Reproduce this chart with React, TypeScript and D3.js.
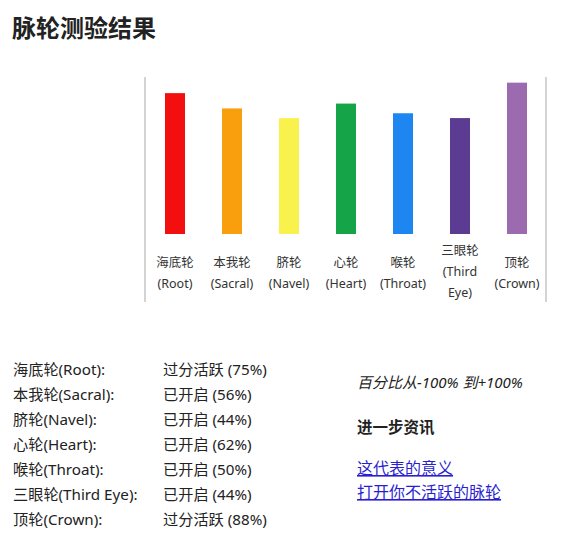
import React from 'react';
import * as d3 from 'd3';

const NAMES_ZH = ['海底轮', '本我轮', '脐轮', '心轮', '喉轮', '三眼轮', '顶轮'];
const NAMES_EN = ['Root', 'Sacral', 'Navel', 'Heart', 'Throat', 'Third Eye', 'Crown'];
const VALUES = [75, 56, 44, 62, 50, 44, 88];
const STATUS = ['过分活跃', '已开启', '已开启', '已开启', '已开启', '已开启', '过分活跃'];
const COLORS = ['#f30f10', '#f99e0c', '#faf24c', '#15a447', '#1e86f1', '#5b3c92', '#9b6aaf'];
const LINKS = ['这代表的意义', '打开你不活跃的脉轮'];

const SANS = '"Noto Sans", "Noto Sans CJK SC", sans-serif';
const SERIF = '"DejaVu Serif", "Noto Sans CJK SC", serif';

const App: React.FC = () => {
  const x = d3.scalePoint<number>().domain(d3.range(NAMES_ZH.length)).range([146.5, 545.5]).padding(0.5);
  const y = d3.scaleLinear().domain([-100, 100]).range([234, 73]);
  const barW = 20;

  const labelLines = (i: number): string[] =>
    NAMES_EN[i] === 'Third Eye' ? [NAMES_ZH[i], '(Third', 'Eye)'] : [NAMES_ZH[i], `(${NAMES_EN[i]})`];

  return (
    <svg width={572} height={540} style={{ position: 'absolute', left: 0, top: 0 }}>
      <text x={12} y={37} fontFamily={SERIF} fontWeight="bold" fontSize={24} fill="#222">
        脉轮测验结果
      </text>

      {/* frame */}
      <line x1={145} x2={145} y1={77} y2={302} stroke="#d4d4d4" strokeWidth={2} />
      <line x1={546} x2={546} y1={77} y2={302} stroke="#d4d4d4" strokeWidth={2} />

      {VALUES.map((v, i) => (
        <rect
          key={i}
          x={(x(i) ?? 0) - barW / 2}
          y={y(v)}
          width={barW}
          height={y(-100) - y(v)}
          fill={COLORS[i]}
        />
      ))}

      {NAMES_ZH.map((_, i) => {
        const lines = labelLines(i);
        const top = lines.length === 3 ? 255 : 267;
        return (
          <text key={i} textAnchor="middle" fontFamily={SANS} fontSize={12.5} fill="#333">
            {lines.map((s, j) => (
              <tspan key={j} x={x(i)} y={top + j * 21}>
                {s}
              </tspan>
            ))}
          </text>
        );
      })}

      {/* summary list */}
      {NAMES_ZH.map((zh, i) => (
        <g key={i} fontFamily={SANS} fontSize={15.2} fill="#222">
          <text x={13} y={375 + i * 25}>{`${zh}(${NAMES_EN[i]}):`}</text>
          <text x={163} y={375 + i * 25}>{`${STATUS[i]} (${VALUES[i]}%)`}</text>
        </g>
      ))}

      <text x={357} y={388} fontFamily={SANS} fontStyle="italic" fontSize={15} fill="#222">
        百分比从-100% 到+100%
      </text>
      <text x={357} y={433} fontFamily={SERIF} fontWeight="bold" fontSize={15.5} fill="#222">
        进一步资讯
      </text>
      {LINKS.map((t, i) => (
        <text
          key={i}
          x={357}
          y={474 + i * 24}
          fontFamily={SERIF}
          fontSize={16}
          fill="#2a1fd0"
          textDecoration="underline"
        >
          {t}
        </text>
      ))}
    </svg>
  );
};

export default App;
